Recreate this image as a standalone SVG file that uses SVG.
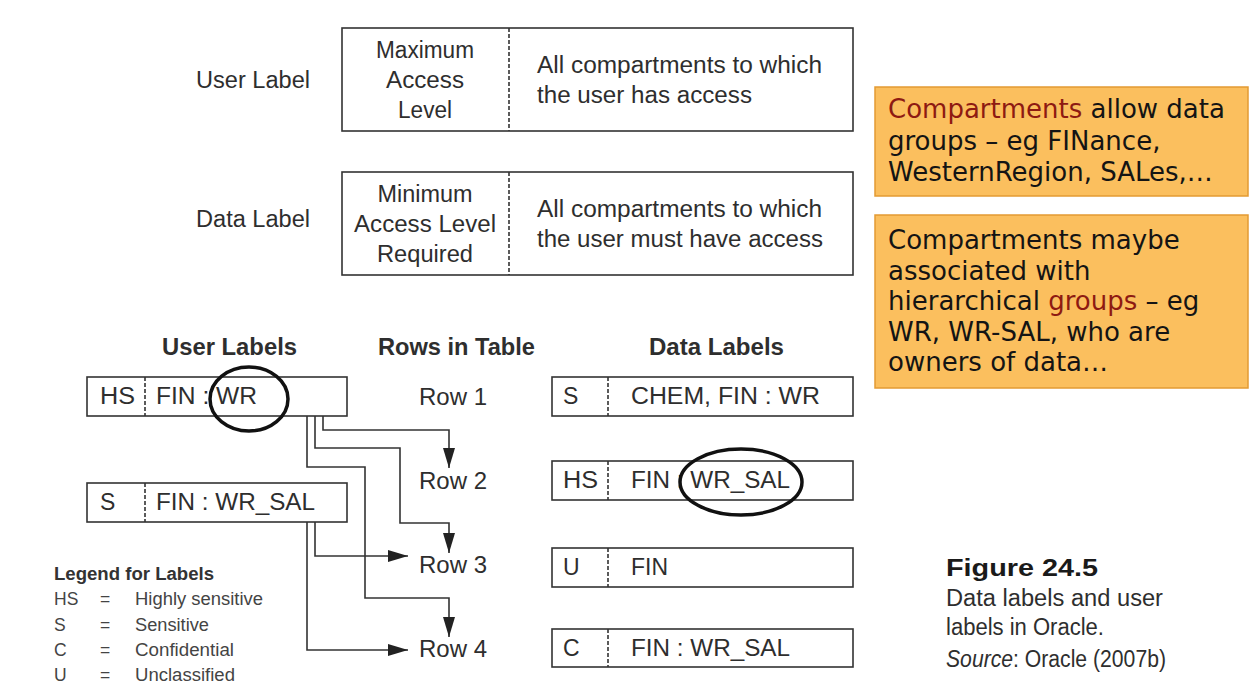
<svg xmlns="http://www.w3.org/2000/svg" width="1252" height="700" viewBox="0 0 1252 700">
<defs>
<style>
.t{font-family:"Liberation Sans",Arial,sans-serif;fill:#2e2e2e;font-size:23px}
.b{font-weight:bold}
.box{fill:#fff;stroke:#333;stroke-width:1.6}
.div{stroke:#333;stroke-width:1.6;stroke-dasharray:4 2}
.con{fill:none;stroke:#333;stroke-width:1.6}
.ring{fill:none;stroke:#111;stroke-width:3.5}
.note{fill:#FBBF5E;stroke:#E39B33;stroke-width:1.5}
.nt{font-family:"DejaVu Sans",Verdana,sans-serif;font-size:26px;fill:#141414}
.red{fill:#8E1A12}
.lg{font-family:"Liberation Sans",Arial,sans-serif;fill:#444;font-size:17.5px}
</style>
<marker id="arr" markerUnits="userSpaceOnUse" markerWidth="20" markerHeight="12" refX="20" refY="6" orient="auto">
<path d="M0,0 L20,6 L0,12 z" fill="#222"/>
</marker>
</defs>
<rect width="1252" height="700" fill="#fff"/>

<g id="user-label-def">
<text class="t" x="196" y="88" textLength="114" lengthAdjust="spacingAndGlyphs">User Label</text>
<rect class="box" x="342" y="28" width="511" height="103"/>
<line class="div" x1="509" y1="28" x2="509" y2="131"/>
<text class="t" x="425" y="58" text-anchor="middle" textLength="98" lengthAdjust="spacingAndGlyphs">Maximum</text>
<text class="t" x="425" y="88" text-anchor="middle" textLength="78" lengthAdjust="spacingAndGlyphs">Access</text>
<text class="t" x="425" y="118" text-anchor="middle" textLength="54" lengthAdjust="spacingAndGlyphs">Level</text>
<text class="t" x="537" y="73" textLength="285" lengthAdjust="spacingAndGlyphs">All compartments to which</text>
<text class="t" x="537" y="103" textLength="215" lengthAdjust="spacingAndGlyphs">the user has access</text>
</g>

<g id="data-label-def">
<text class="t" x="196" y="227" textLength="114" lengthAdjust="spacingAndGlyphs">Data Label</text>
<rect class="box" x="342" y="172" width="511" height="103"/>
<line class="div" x1="509" y1="172" x2="509" y2="275"/>
<text class="t" x="425" y="202" text-anchor="middle" textLength="95" lengthAdjust="spacingAndGlyphs">Minimum</text>
<text class="t" x="425" y="232" text-anchor="middle" textLength="142" lengthAdjust="spacingAndGlyphs">Access Level</text>
<text class="t" x="425" y="262" text-anchor="middle" textLength="96" lengthAdjust="spacingAndGlyphs">Required</text>
<text class="t" x="537" y="217" textLength="285" lengthAdjust="spacingAndGlyphs">All compartments to which</text>
<text class="t" x="537" y="247" textLength="286" lengthAdjust="spacingAndGlyphs">the user must have access</text>
</g>

<g id="note1">
<rect class="note" x="875" y="87" width="373" height="109"/>
<text class="nt" x="888" y="118"><tspan class="red">Compartments</tspan> allow data</text>
<text class="nt" x="888" y="150">groups – eg FINance,</text>
<text class="nt" x="888" y="181">WesternRegion, SALes,…</text>
</g>

<g id="note2">
<rect class="note" x="875" y="215" width="373" height="173"/>
<text class="nt" x="888" y="249">Compartments maybe</text>
<text class="nt" x="888" y="280">associated with</text>
<text class="nt" x="888" y="310">hierarchical <tspan class="red">groups</tspan> – eg</text>
<text class="nt" x="888" y="341">WR, WR-SAL, who are</text>
<text class="nt" x="888" y="371">owners of data…</text>
</g>

<g id="headers">
<text class="t b" x="162" y="355" textLength="135" lengthAdjust="spacingAndGlyphs">User Labels</text>
<text class="t b" x="378" y="355" textLength="157" lengthAdjust="spacingAndGlyphs">Rows in Table</text>
<text class="t b" x="649" y="355" textLength="135" lengthAdjust="spacingAndGlyphs">Data Labels</text>
</g>

<g id="connectors">
<path class="con" d="M323,416 V430 H449 V468" marker-end="url(#arr)"/>
<path class="con" d="M315,416 V448 H400 V523 H449 V553" marker-end="url(#arr)"/>
<path class="con" d="M307,416 V467 H365 V598 H449 V637" marker-end="url(#arr)"/>
<path class="con" d="M315,522 V556 H408" marker-end="url(#arr)"/>
<path class="con" d="M307,522 V650 H408" marker-end="url(#arr)"/>
</g>

<g id="user-hs">
<rect class="box" x="87" y="377" width="260" height="39"/>
<line class="div" x1="145" y1="377" x2="145" y2="416"/>
<text class="t" x="100" y="404" textLength="35" lengthAdjust="spacingAndGlyphs">HS</text>
<text class="t" x="156" y="404" textLength="101" lengthAdjust="spacingAndGlyphs">FIN : WR</text>
<ellipse class="ring" cx="249" cy="399" rx="39" ry="32"/>
</g>

<g id="user-s">
<rect class="box" x="87" y="483" width="260" height="39"/>
<line class="div" x1="145" y1="483" x2="145" y2="522"/>
<text class="t" x="100" y="510">S</text>
<text class="t" x="156" y="510" textLength="159" lengthAdjust="spacingAndGlyphs">FIN : WR_SAL</text>
</g>

<g id="rows">
<text class="t" x="419" y="405" textLength="68" lengthAdjust="spacingAndGlyphs">Row 1</text>
<text class="t" x="419" y="489" textLength="68" lengthAdjust="spacingAndGlyphs">Row 2</text>
<text class="t" x="419" y="573" textLength="68" lengthAdjust="spacingAndGlyphs">Row 3</text>
<text class="t" x="419" y="657" textLength="68" lengthAdjust="spacingAndGlyphs">Row 4</text>
</g>

<g id="data-row1">
<rect class="box" x="552" y="377" width="301" height="39"/>
<line class="div" x1="608" y1="377" x2="608" y2="416"/>
<text class="t" x="563" y="404">S</text>
<text class="t" x="631" y="404" textLength="189" lengthAdjust="spacingAndGlyphs">CHEM, FIN : WR</text>
</g>
<g id="data-row2">
<rect class="box" x="552" y="461" width="301" height="39"/>
<line class="div" x1="608" y1="461" x2="608" y2="500"/>
<text class="t" x="563" y="488" textLength="35" lengthAdjust="spacingAndGlyphs">HS</text>
<text class="t" x="631" y="488" textLength="159" lengthAdjust="spacingAndGlyphs">FIN : WR_SAL</text>
<ellipse class="ring" cx="741" cy="482" rx="61" ry="33"/>
</g>
<g id="data-row3">
<rect class="box" x="552" y="548" width="301" height="39"/>
<line class="div" x1="608" y1="548" x2="608" y2="587"/>
<text class="t" x="563" y="575">U</text>
<text class="t" x="631" y="575" textLength="37" lengthAdjust="spacingAndGlyphs">FIN</text>
</g>
<g id="data-row4">
<rect class="box" x="552" y="629" width="301" height="38"/>
<line class="div" x1="608" y1="629" x2="608" y2="667"/>
<text class="t" x="563" y="656">C</text>
<text class="t" x="631" y="656" textLength="159" lengthAdjust="spacingAndGlyphs">FIN : WR_SAL</text>
</g>

<g id="legend">
<text class="lg b" x="54" y="580" font-size="16.5" textLength="160" lengthAdjust="spacingAndGlyphs" style="fill:#333">Legend for Labels</text>
<text class="lg" x="54" y="605">HS</text><text class="lg" x="100" y="605">=</text><text class="lg" x="135" y="605" textLength="128" lengthAdjust="spacingAndGlyphs">Highly sensitive</text>
<text class="lg" x="54" y="631">S</text><text class="lg" x="100" y="631">=</text><text class="lg" x="135" y="631" textLength="74" lengthAdjust="spacingAndGlyphs">Sensitive</text>
<text class="lg" x="54" y="656">C</text><text class="lg" x="100" y="656">=</text><text class="lg" x="135" y="656" textLength="99" lengthAdjust="spacingAndGlyphs">Confidential</text>
<text class="lg" x="54" y="681">U</text><text class="lg" x="100" y="681">=</text><text class="lg" x="135" y="681" textLength="100" lengthAdjust="spacingAndGlyphs">Unclassified</text>
</g>

<g id="caption">
<text class="t b" x="946" y="576" font-size="22" textLength="152" lengthAdjust="spacingAndGlyphs" style="fill:#1a1a1a">Figure 24.5</text>
<text class="t" x="946" y="606" font-size="21" textLength="217" lengthAdjust="spacingAndGlyphs">Data labels and user</text>
<text class="t" x="946" y="635" font-size="21" textLength="158" lengthAdjust="spacingAndGlyphs">labels in Oracle.</text>
<text class="t" x="946" y="667" font-size="17.5" textLength="220" lengthAdjust="spacingAndGlyphs"><tspan font-style="italic">Source</tspan>: Oracle (2007b)</text>
</g>
</svg>
